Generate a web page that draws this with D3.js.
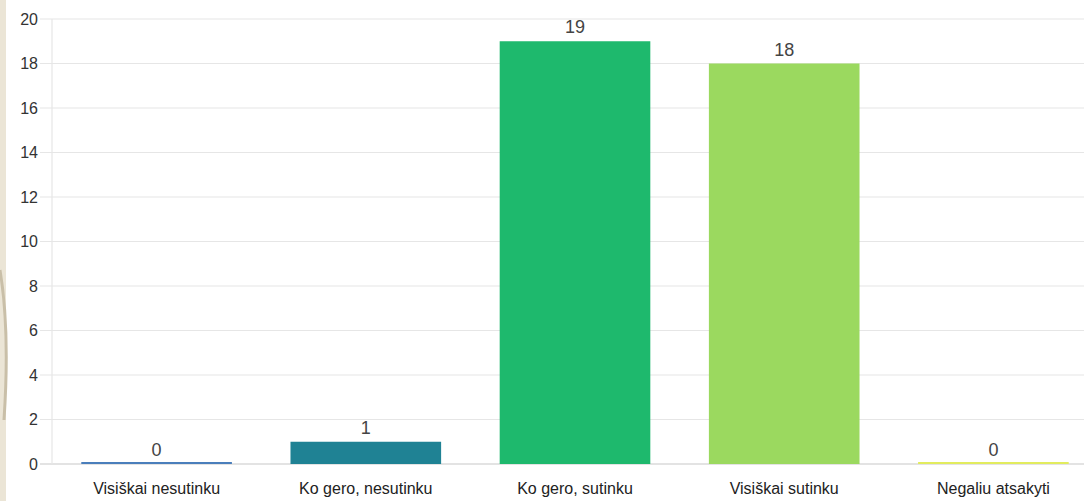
<!DOCTYPE html>
<html><head><meta charset="utf-8">
<script src="https://cdn.jsdelivr.net/npm/d3@7/dist/d3.min.js"></script>
<style>html,body{margin:0;padding:0;background:#fff;}svg{display:block;}</style>
</head><body>
<svg id="c" width="1084" height="501"></svg>
<script>
const categories = ["Visiškai nesutinku", "Ko gero, nesutinku", "Ko gero, sutinku", "Visiškai sutinku", "Negaliu atsakyti"];
const values = [0, 1, 19, 18, 0];
const colors = ["#4a7ebb", "#1f8294", "#1eb96d", "#9bd95f", "#e2ec5e"];
const yTicks = [0, 2, 4, 6, 8, 10, 12, 14, 16, 18, 20];

(function () {
const svg = d3.select("#c");
const W = 1084, H = 501;
const pLeft = 52, pRight = 1098, pTop = 19, pBottom = 464;
const font = "Liberation Sans, Arial, sans-serif";

// beige strip at left edge
svg.append("rect").attr("x", 0).attr("y", 0).attr("width", 6).attr("height", H).attr("fill", "#ebe5d6");
svg.append("path").attr("d", "M0,270 Q10,330 4,420").attr("stroke", "#c9bfa8").attr("stroke-width", 3).attr("fill", "none");

const x = d3.scaleBand().domain(categories).range([pLeft, pRight]).paddingInner(0.28).paddingOuter(0.14);
const y = d3.scaleLinear().domain([0, 20]).range([pBottom, pTop]);

// gridlines
svg.append("g").selectAll("line").data(yTicks).join("line")
  .attr("x1", 40).attr("x2", W).attr("y1", d => y(d)).attr("y2", d => y(d))
  .attr("stroke", d => d === 0 ? "#c8c8c8" : "#e6e6e6").attr("stroke-width", 1.2);
svg.append("line").attr("x1", pLeft).attr("x2", pLeft).attr("y1", pTop).attr("y2", pBottom)
  .attr("stroke", "#e6e6e6").attr("stroke-width", 1.2);

// y tick labels
const yAxis = d3.axisLeft(y).tickValues(yTicks).tickSize(0).tickPadding(0);
const ga = svg.append("g").attr("transform", "translate(38,0)").call(yAxis);
ga.select(".domain").remove();
ga.selectAll("text").attr("font-family", font).attr("font-size", 16).attr("fill", "#333");

// bars
svg.append("g").selectAll("rect").data(values).join("rect")
  .attr("x", (d, i) => x(categories[i]))
  .attr("width", x.bandwidth())
  .attr("y", d => d === 0 ? y(0) - 2 : y(d))
  .attr("height", d => d === 0 ? 2 : y(0) - y(d))
  .attr("fill", (d, i) => colors[i]);

// value labels
svg.append("g").selectAll("text").data(values).join("text")
  .attr("x", (d, i) => x(categories[i]) + x.bandwidth() / 2)
  .attr("y", d => y(d) - 8)
  .attr("text-anchor", "middle")
  .attr("font-family", font).attr("font-size", 18).attr("fill", "#444")
  .text(d => d);

// x labels
const xAxis = d3.axisBottom(x).tickSize(0).tickPadding(0);
const gx = svg.append("g").attr("transform", `translate(0,${pBottom})`).call(xAxis);
gx.select(".domain").remove();
gx.selectAll("text").attr("dy", "1.1em").attr("y", 12)
  .attr("font-family", font).attr("font-size", 16).attr("fill", "#222");
})();
</script>
</body></html>
